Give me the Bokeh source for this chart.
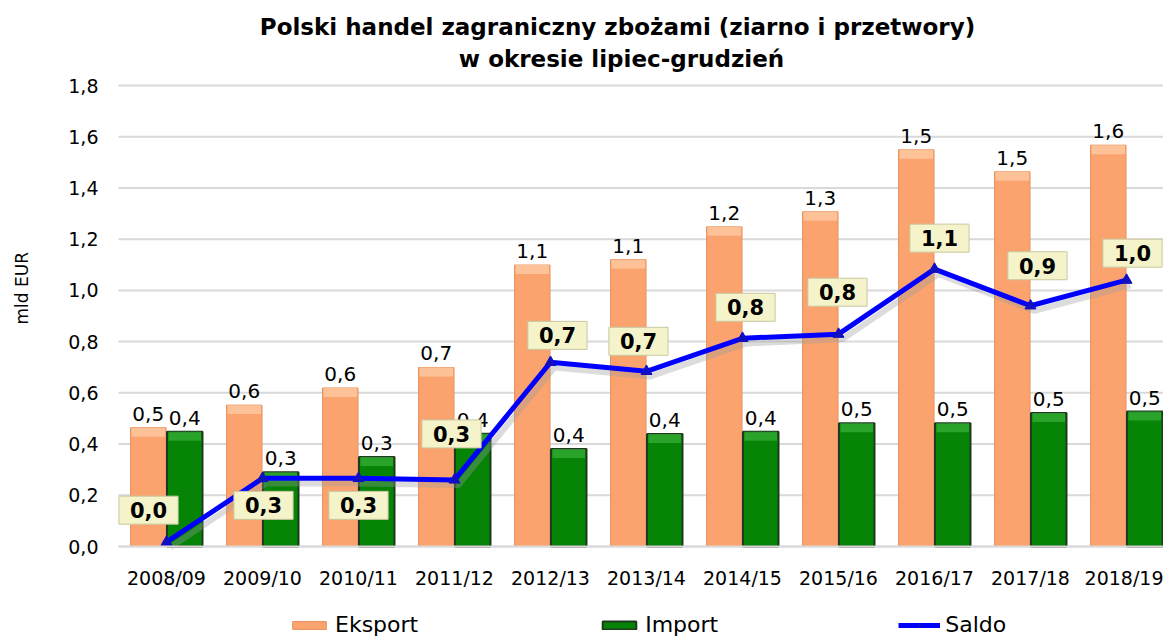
from math import pi
from bokeh.plotting import figure
from bokeh.models import (ColumnDataSource, Legend, LegendItem, Label, Range1d,
                          FixedTicker, CustomJSTickFormatter)
from bokeh.embed import file_html
from bokeh.resources import INLINE
from bokeh.core.properties import value

# ---- data (mld EUR) ----
seasons = ["2008/09", "2009/10", "2010/11", "2011/12", "2012/13", "2013/14",
           "2014/15", "2015/16", "2016/17", "2017/18", "2018/19"]
eksport = [0.464, 0.552, 0.619, 0.699, 1.099, 1.120, 1.248, 1.307, 1.549, 1.463, 1.567]
import_ = [0.448, 0.290, 0.349, 0.440, 0.381, 0.439, 0.448, 0.481, 0.481, 0.521, 0.527]
saldo = [0.017, 0.266, 0.266, 0.260, 0.719, 0.684, 0.813, 0.829, 1.083, 0.940, 1.040]
y_ticks = [0.0, 0.2, 0.4, 0.6, 0.8, 1.0, 1.2, 1.4, 1.6, 1.8]

title_line1 = "Polski handel  zagraniczny zbożami (ziarno i przetwory)"
title_line2 = "w okresie lipiec-grudzień"
y_label = "mld  EUR"

# ---- layout / style (screen pixels) ----
W, H = 1163, 637
PLOT_LEFT, PLOT_TOP, PLOT_BOTTOM = 118, 85, 546
px_per_unit = (PLOT_BOTTOM - PLOT_TOP) / 1.8
px_per_cat = 96.0
saldo_dx = [-18, 1, 0, -3, 7, -8, 3, -1, 5, 7, 6]
saldo_dy = [-32, 27, 27, -46, -27, -30, -31, -42, -31, -40, -27]

FONT = "DejaVu Sans"
ORANGE = "#FBA36E"
ORANGE_HI = "#FFC9A2"
GREEN = "#068406"
GREEN_HI = "#39B039"
GRID = "#D9D9D9"


def fmt(v):
    return f"{v:.1f}".replace(".", ",")


xs = list(range(len(seasons)))
off = 0.19
bw = 0.37
x_e = [x - off for x in xs]
x_i = [x + off for x in xs]

src = ColumnDataSource(dict(
    x=xs, x_e=x_e, x_i=x_i,
    eksport=eksport, import_=import_, saldo=saldo,
    e_hi=[v - 0.035 for v in eksport], i_hi=[v - 0.035 for v in import_],
    e_lab=[fmt(v) for v in eksport], i_lab=[fmt(v) for v in import_],
    s_lab=[fmt(v) for v in saldo],
    s_dx=saldo_dx, s_dy=saldo_dy,
    sh_x=[x + 0.04 for x in xs], sh_y=[v - 0.02 for v in saldo],
))

x_left = -0.5
x_start = x_left - PLOT_LEFT / px_per_cat
x_end = x_left + (W - PLOT_LEFT) / px_per_cat
y_start = -(H - PLOT_BOTTOM) / px_per_unit
y_end = 1.8 + PLOT_TOP / px_per_unit

p = figure(width=W, height=H, output_backend="svg", toolbar_location=None,
           title=None, x_range=Range1d(x_start, x_end), y_range=Range1d(y_start, y_end),
           min_border_left=0, min_border_right=0, min_border_top=0,
           min_border_bottom=0)
p.outline_line_color = None
p.background_fill_color = "white"
p.border_fill_color = "white"
p.xgrid.visible = False
p.ygrid.visible = False

# horizontal grid lines (start at the plot-area edge)
p.segment(x0=x_left, x1=x_end, y0=y_ticks, y1=y_ticks, line_color=GRID, line_width=2)

# y axis (drawn at the plot-area's left edge)
p.yaxis.fixed_location = x_left
p.yaxis.ticker = FixedTicker(ticks=y_ticks)
p.yaxis.formatter = CustomJSTickFormatter(code="return tick.toFixed(1).replace('.', ',');")
p.yaxis.axis_line_color = None
p.yaxis.major_tick_line_color = None
p.yaxis.minor_tick_line_color = None
p.yaxis.major_label_standoff = 14
p.yaxis.major_label_text_font = FONT
p.yaxis.major_label_text_font_size = "19px"
p.yaxis.major_label_text_color = "black"

# x axis (drawn at y = 0)
p.xaxis.fixed_location = 0
p.xaxis.bounds = (x_left, x_end)
p.xaxis.ticker = FixedTicker(ticks=xs)
p.xaxis.major_label_overrides = {i: s for i, s in enumerate(seasons)}
p.xaxis.axis_line_color = GRID
p.xaxis.axis_line_width = 2
p.xaxis.major_tick_line_color = None
p.xaxis.minor_tick_line_color = None
p.xaxis.major_label_standoff = 14
p.xaxis.major_label_text_font = FONT
p.xaxis.major_label_text_font_size = "19px"
p.xaxis.major_label_text_color = "black"

# bars
r_e = p.vbar(x="x_e", top="eksport", bottom=0, width=bw, source=src,
             fill_color=ORANGE, line_color="#E8925E", line_width=1)
p.vbar(x="x_e", top="eksport", bottom="e_hi", width=bw - 0.02, source=src,
       fill_color=ORANGE_HI, line_color=None, fill_alpha=0.8)
r_i = p.vbar(x="x_i", top="import_", bottom=0, width=bw, source=src,
             fill_color=GREEN, line_color="#1E3A1E", line_width=2)
p.vbar(x="x_i", top="import_", bottom="i_hi", width=bw - 0.03, source=src,
       fill_color=GREEN_HI, line_color=None, fill_alpha=0.7)

# bar labels
p.text(x="x_e", y="eksport", text="e_lab", source=src, text_align="center",
       text_baseline="alphabetic", y_offset=-14, text_font=value(FONT),
       text_font_size="20px", text_color="black")
p.text(x="x_i", y="import_", text="i_lab", source=src, text_align="center",
       text_baseline="alphabetic", y_offset=-14, text_font=value(FONT),
       text_font_size="20px", text_color="black")

# saldo line
p.line(x="sh_x", y="sh_y", source=src, line_color="#9A9A9A", line_width=6,
       line_alpha=0.35)
r_l = p.line(x="x", y="saldo", source=src, line_color="#0000FF", line_width=5)
r_m = p.scatter(x="x", y="saldo", source=src, marker="triangle", size=11,
                fill_color="#1010C0", line_color="#1010C0")

# saldo labels
p.text(x="x", y="saldo", text="s_lab", source=src, x_offset="s_dx", y_offset="s_dy",
       text_align="center", text_baseline="middle", text_font=value(FONT),
       text_font_style="bold", text_font_size="21px", text_color="black",
       background_fill_color="#F5F3C9", border_line_color="#C9C7A0",
       border_line_width=1, padding=dict(left=11, right=11, top=6, bottom=6))

# titles (screen units measured from the frame's bottom-left corner)
for txt, y_page in [(title_line1, 26), (title_line2, 58)]:
    p.add_layout(Label(x=621, y=H - y_page, x_units="screen",
                       y_units="screen", text=txt, text_align="center",
                       text_baseline="middle", text_font=FONT,
                       text_font_style="bold", text_font_size="23px",
                       text_color="black"))

# y axis title
p.add_layout(Label(x=21, y=H - 285, x_units="screen", y_units="screen", text=y_label,
                   angle=pi / 2, text_align="center", text_baseline="middle",
                   text_font=FONT, text_font_size="17px", text_color="black"))

# legend
legend = Legend(items=[LegendItem(label="Eksport", renderers=[r_e]),
                       LegendItem(label="Import", renderers=[r_i]),
                       LegendItem(label="Saldo", renderers=[r_l, r_m])],
                orientation="horizontal", location=(288, 0), spacing=180,
                glyph_width=42, glyph_height=10, label_standoff=5,
                label_text_font=FONT, label_text_font_size="22px",
                label_text_color="black",
                border_line_color=None, background_fill_alpha=0,
                padding=0, margin=0)
p.add_layout(legend, "center")

open("out.html", "w").write(file_html(p, INLINE))
